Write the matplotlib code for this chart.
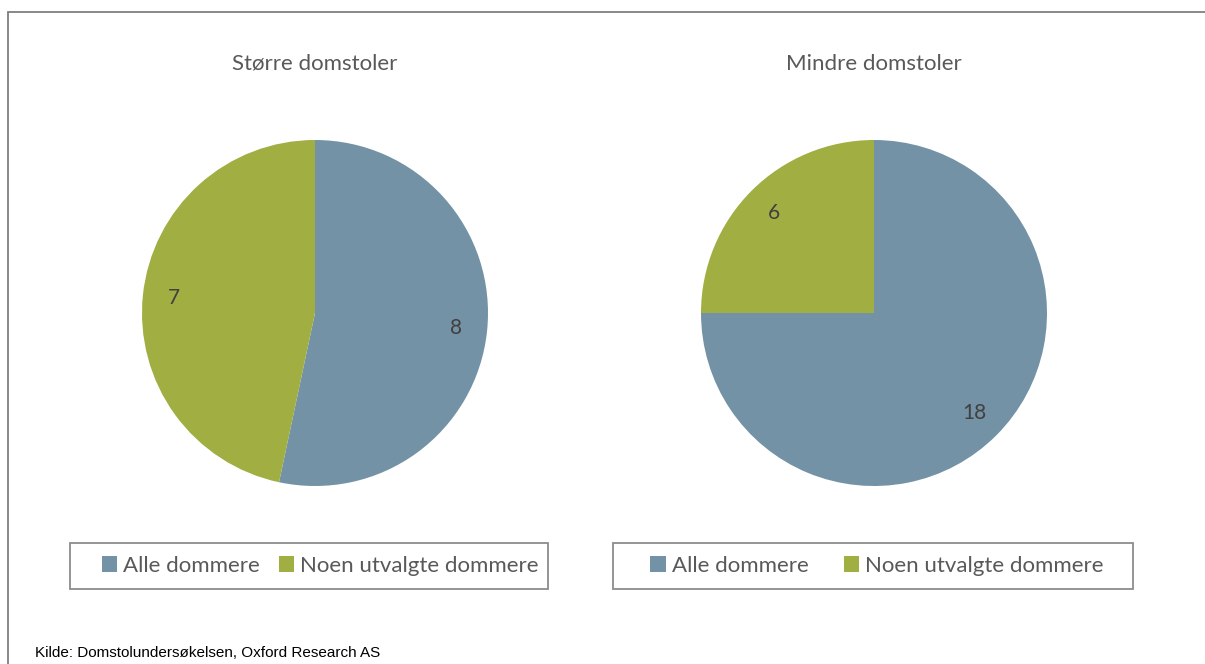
import matplotlib.pyplot as plt
from matplotlib.patches import Rectangle

# data
categories = ['Alle dommere', 'Noen utvalgte dommere']
titles = ['Større domstoler', 'Mindre domstoler']
stoerre = [8, 7]
mindre = [18, 6]
colors = ['#7392A5', '#A0AE42']
source = 'Kilde: Domstolundersøkelsen, Oxford Research AS'

plt.rcParams['font.family'] = ['Lato', 'DejaVu Sans']
grey = '#595959'

W, H = 1205, 664
fig = plt.figure(figsize=(W / 100, H / 100), dpi=100)


def px_box(x0, y0, x1, y1):
    # pixel box (top-left origin) -> figure fraction
    return [x0 / W, 1 - y1 / H, (x1 - x0) / W, (y1 - y0) / H]


# outer frame (only left/top visible in reference)
fig.patches.append(Rectangle((8 / W, -0.05), 1.2, 1 - 12 / H + 0.05,
                             transform=fig.transFigure, fill=False,
                             edgecolor='#7f7f7f', linewidth=1.3))

centers = [315, 874]
legend_boxes = [(70, 543, 548, 589), (613, 543, 1133, 589)]
legend_cx = [320, 877]
colspace = [0.85, 1.6]
r = 173

for i, vals in enumerate([stoerre, mindre]):
    cx = centers[i]
    ax = fig.add_axes(px_box(cx - r, 313 - r, cx + r, 313 + r))
    wedges, texts = ax.pie(vals, colors=colors, startangle=90, counterclock=False,
                           labels=[str(v) for v in vals], labeldistance=0.82,
                           wedgeprops={'linewidth': 0},
                           textprops={'fontsize': 15, 'color': '#404040',
                                      'ha': 'center', 'va': 'center'})
    ax.set_xlim(-1, 1)
    ax.set_ylim(-1, 1)
    ax.set_aspect('equal')
    fig.text(cx / W, 1 - 64 / H, titles[i], ha='center', va='center',
             fontsize=16, color=grey)

    x0, y0, x1, y1 = legend_boxes[i]
    fig.patches.append(Rectangle((x0 / W, 1 - y1 / H), (x1 - x0) / W, (y1 - y0) / H,
                                 transform=fig.transFigure, fill=False,
                                 edgecolor='#8c8c8c', linewidth=1.3))
    fig.legend(wedges, categories, loc='center', ncol=2,
               bbox_to_anchor=(legend_cx[i] / W, 1 - (y0 + y1) / 2 / H),
               frameon=False, fontsize=16, labelcolor=grey,
               handlelength=0.7, handleheight=0.7, handletextpad=0.25,
               columnspacing=colspace[i])

fig.text(35 / W, 1 - 653 / H, source, ha='left', va='center', fontsize=11,
         family=['Liberation Sans Narrow', 'Liberation Sans'], color='black')

fig.savefig('out.png', dpi=100)
